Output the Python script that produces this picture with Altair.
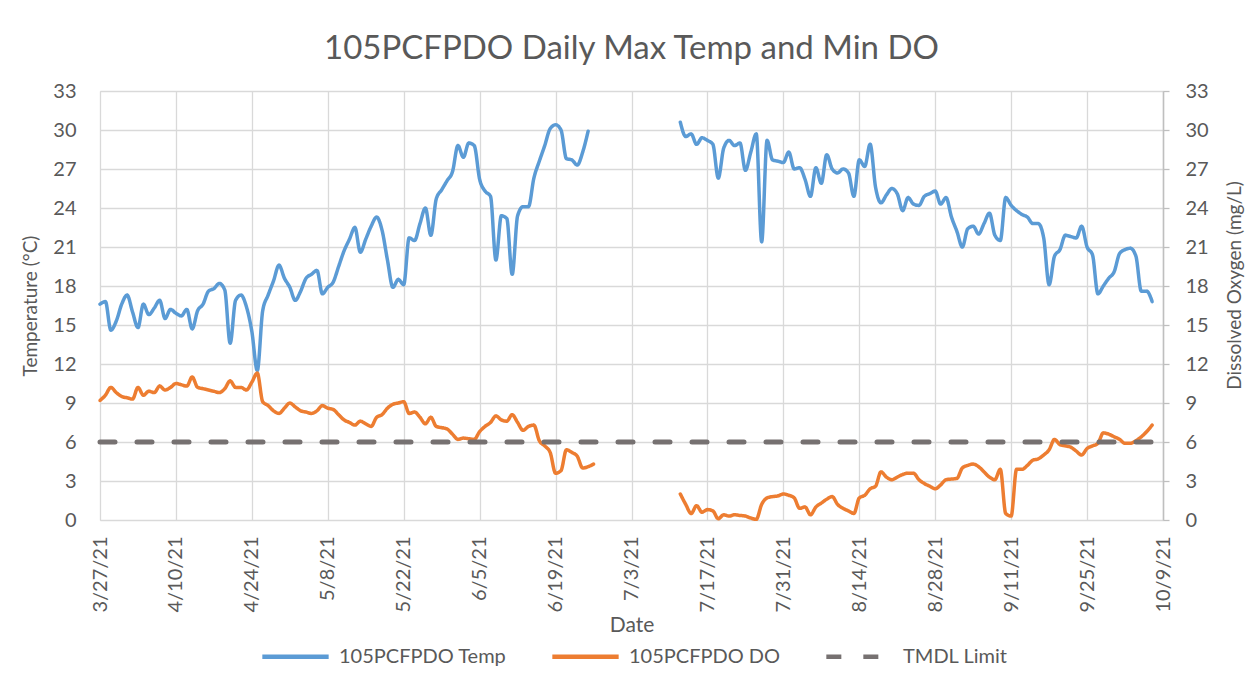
import altair as alt
import pandas as pd

# ---- data (daily values) ----
SERIES_TEMP = "105PCFPDO Temp"
SERIES_DO = "105PCFPDO DO"
SERIES_TMDL = "TMDL Limit"

temp_seg1_start = "2021-03-27"
temp_seg1 = [16.6, 16.8, 14.6, 15.3, 16.6, 17.3, 16.0, 14.8, 16.6, 15.8,
             16.3, 16.9, 15.5, 16.2, 15.9, 15.7, 16.2, 14.7, 16.1, 16.6,
             17.6, 17.8, 18.2, 17.7, 13.6, 16.9, 17.3, 16.4, 14.5, 11.5,
             16.1, 17.3, 18.4, 19.6, 18.6, 17.9, 16.9, 17.6, 18.6, 18.9,
             19.2, 17.4, 17.9, 18.3, 19.5, 20.7, 21.6, 22.5, 20.6, 21.6,
             22.6, 23.3, 22.3, 20.0, 17.9, 18.5, 18.1, 21.7, 21.5, 22.8,
             24.0, 21.9, 24.7, 25.4, 26.1, 26.8, 28.8, 27.9, 29.0, 28.8,
             26.2, 25.3, 24.9, 20.0, 23.4, 23.2, 18.9, 23.4, 24.1, 24.1,
             26.3, 27.6, 28.8, 30.1, 30.4, 30.0, 27.8, 27.7, 27.3, 28.3,
             29.9]

temp_seg2_start = "2021-07-12"
temp_seg2 = [30.6, 29.5, 29.7, 28.9, 29.4, 29.2, 28.9, 26.3, 28.6, 29.2,
             28.8, 29.0, 26.9, 28.3, 29.7, 21.4, 29.2, 27.7, 27.6, 27.5,
             28.3, 27.0, 27.1, 26.2, 24.9, 27.1, 25.9, 28.1, 27.0, 26.7,
             27.0, 26.7, 24.9, 27.7, 27.2, 28.9, 25.6, 24.4, 25.0, 25.5,
             25.1, 23.8, 24.8, 24.3, 24.2, 24.9, 25.1, 25.3, 24.3, 24.8,
             23.3, 22.2, 21.0, 22.4, 22.6, 22.0, 22.8, 23.6, 21.9, 21.5,
             24.8, 24.2, 23.8, 23.5, 23.3, 22.8, 22.8, 21.7, 18.1, 20.3,
             20.8, 21.9, 21.8, 21.7, 22.6, 21.0, 20.4, 17.4, 18.0, 18.6,
             19.1, 20.5, 20.8, 20.9, 20.3, 17.6, 17.6, 16.8]

do_seg1_start = "2021-03-27"
do_seg1 = [9.2, 9.6, 10.2, 9.8, 9.5, 9.4, 9.3, 10.2, 9.6, 9.9,
           9.8, 10.3, 10.0, 10.2, 10.5, 10.4, 10.3, 11.0, 10.2, 10.1,
           10.0, 9.9, 9.8, 10.1, 10.7, 10.2, 10.2, 10.0, 10.6, 11.3,
           9.1, 8.8, 8.4, 8.2, 8.6, 9.0, 8.7, 8.4, 8.3, 8.2,
           8.4, 8.8, 8.6, 8.5, 8.1, 7.7, 7.5, 7.3, 7.6, 7.4,
           7.2, 7.9, 8.1, 8.6, 8.9, 9.0, 9.1, 8.2, 8.3, 7.9,
           7.4, 7.9, 7.2, 7.1, 7.0, 6.6, 6.2, 6.3, 6.25, 6.2,
           6.8, 7.2, 7.5, 8.0, 7.7, 7.6, 8.1, 7.5, 6.9, 7.2,
           7.3, 6.1, 5.7, 5.2, 3.6, 3.8, 5.4, 5.2, 4.9, 4.0,
           4.1, 4.3]

do_seg2_start = "2021-07-12"
do_seg2 = [2.0, 1.2, 0.5, 1.1, 0.6, 0.8, 0.7, 0.1, 0.4, 0.3,
           0.4, 0.35, 0.3, 0.15, 0.05, 1.2, 1.7, 1.8, 1.85, 2.0,
           1.9, 1.7, 0.9, 1.0, 0.4, 1.0, 1.3, 1.6, 1.8, 1.2,
           0.9, 0.7, 0.5, 1.7, 1.9, 2.4, 2.6, 3.7, 3.3, 3.1,
           3.3, 3.5, 3.6, 3.6, 3.1, 2.8, 2.6, 2.4, 2.7, 3.1,
           3.15, 3.2, 4.0, 4.2, 4.3, 4.1, 3.7, 3.3, 3.1, 3.9,
           0.5, 0.3, 3.9, 3.9, 4.2, 4.6, 4.7, 5.0, 5.4, 6.2,
           5.8, 5.7, 5.6, 5.3, 5.0, 5.5, 5.7, 5.9, 6.7, 6.6,
           6.4, 6.2, 5.9, 5.9, 6.1, 6.4, 6.8, 7.3]

tmdl_dates = ["2021-03-27", "2021-10-09"]
tmdl_values = [6, 6]

x_tick_dates = ["2021-03-27", "2021-04-10", "2021-04-24", "2021-05-08",
                "2021-05-22", "2021-06-05", "2021-06-19", "2021-07-03",
                "2021-07-17", "2021-07-31", "2021-08-14", "2021-08-28",
                "2021-09-11", "2021-09-25", "2021-10-09"]
y_ticks = [0, 3, 6, 9, 12, 15, 18, 21, 24, 27, 30, 33]

series_order = [SERIES_TEMP, SERIES_DO, SERIES_TMDL]
series_colors = ["#5B9BD5", "#ED7D31", "#767171"]
series_dash = [[1, 0], [1, 0], [15, 22]]

# ---- build table ----
frames = []
def add(series, seg, start, values):
    d = pd.date_range(start, periods=len(values), freq="D")
    frames.append(pd.DataFrame({"date": d.strftime("%Y-%m-%d"), "value": values,
                                "series": series, "seg": seg}))

add(SERIES_TEMP, "t1", temp_seg1_start, temp_seg1)
add(SERIES_TEMP, "t2", temp_seg2_start, temp_seg2)
add(SERIES_DO, "d1", do_seg1_start, do_seg1)
add(SERIES_DO, "d2", do_seg2_start, do_seg2)
frames.append(pd.DataFrame({"date": tmdl_dates, "value": tmdl_values,
                            "series": SERIES_TMDL, "seg": "m"}))
df = pd.concat(frames, ignore_index=True)

FONT = "Lato"
TXT = "#595959"
GRID = "#D9D9D9"

def dt(s):
    y, m, d = (int(v) for v in s.split("-"))
    return alt.DateTime(year=y, month=m, date=d, utc=True)

x_enc = alt.X(
    "date:T",
    scale=alt.Scale(type="utc", domain=[dt(x_tick_dates[0]), dt(x_tick_dates[-1])]),
    axis=alt.Axis(
        values=[dt(s) for s in x_tick_dates], format="%-m/%-d/%y",
        labelAngle=270, labelPadding=16, ticks=False, domain=False,
        grid=True, gridColor=GRID, gridWidth=1.3,
        labelFont=FONT, labelFontSize=20, labelColor=TXT,
        title="Date", titleFont=FONT, titleFontSize=21, titleFontWeight="normal",
        titleColor=TXT, titleX=531.5, titleY=105, titleBaseline="middle",
        titleAlign="center", labelFlush=False, labelOverlap=False,
    ),
)

color_enc = alt.Color(
    "series:N",
    scale=alt.Scale(domain=series_order, range=series_colors),
    legend=alt.Legend(
        title=None, orient="none", direction="horizontal",
        legendX=160, legendY=530,
        symbolType="stroke", symbolSize=4400, symbolStrokeWidth=4.5,
        labelFont=FONT, labelFontSize=20, labelColor=TXT, labelOffset=8,
        labelLimit=500, columnPadding=36,
    ),
)
dash_enc = alt.StrokeDash(
    "series:N",
    scale=alt.Scale(domain=series_order, range=series_dash),
    legend=alt.Legend(title=None),
)

y_scale = alt.Scale(domain=[0, 33], nice=False, zero=True)

temp_layer = alt.Chart(df).transform_filter(
    alt.datum.series == SERIES_TEMP
).mark_line(strokeWidth=3.5, interpolate="monotone", strokeCap="round", strokeJoin="round").encode(
    x=x_enc,
    y=alt.Y("value:Q", scale=y_scale,
            axis=alt.Axis(values=y_ticks, orient="left", domain=False, ticks=False,
                          grid=True, gridColor=GRID, gridWidth=1.3,
                          labelPadding=24, labelFont=FONT, labelFontSize=20,
                          labelColor=TXT, title="Temperature (°C)",
                          titleFont=FONT, titleFontSize=19, titleFontWeight="normal",
                          titleColor=TXT, titleAngle=270, titleX=-70, titleY=214.5,
                          titleAlign="center", titleBaseline="middle")),
    color=color_enc,
    strokeDash=dash_enc,
    detail="seg:N",
)

do_layer = alt.Chart(df).transform_filter(
    alt.datum.series != SERIES_TEMP
).mark_line(interpolate="monotone", strokeCap="round", strokeJoin="round").encode(
    x=x_enc,
    y=alt.Y("value:Q", scale=y_scale,
            axis=alt.Axis(values=y_ticks, orient="right", domain=True,
                          domainColor="#BFBFBF", domainWidth=1.5,
                          ticks=True, tickSize=6, tickColor="#BFBFBF", tickWidth=1.3,
                          grid=False, labelPadding=16, labelFont=FONT, labelFontSize=20,
                          labelColor=TXT, title="Dissolved Oxygen (mg/L)",
                          titleFont=FONT, titleFontSize=19, titleFontWeight="normal",
                          titleColor=TXT, titleAngle=270, titleX=71, titleY=194,
                          titleAlign="center", titleBaseline="middle")),
    color=color_enc,
    strokeDash=dash_enc,
    strokeWidth=alt.condition(alt.datum.series == SERIES_TMDL, alt.value(5), alt.value(3.5)),
    detail="seg:N",
)

chart = alt.layer(temp_layer, do_layer).resolve_scale(
    y="independent"
).properties(
    width=1063, height=429,
    title=alt.TitleParams("105PCFPDO Daily Max Temp and Min DO", font=FONT,
                          fontSize=33, fontWeight="normal", color=TXT,
                          anchor="middle", offset=15),
    autosize=alt.AutoSizeParams(type="none"),
    padding={"left": 92, "top": 83, "right": 82, "bottom": 150},
).configure_view(stroke=None).configure(background="white")

chart.save("out.html", embed_options={"renderer": "svg", "actions": False})
